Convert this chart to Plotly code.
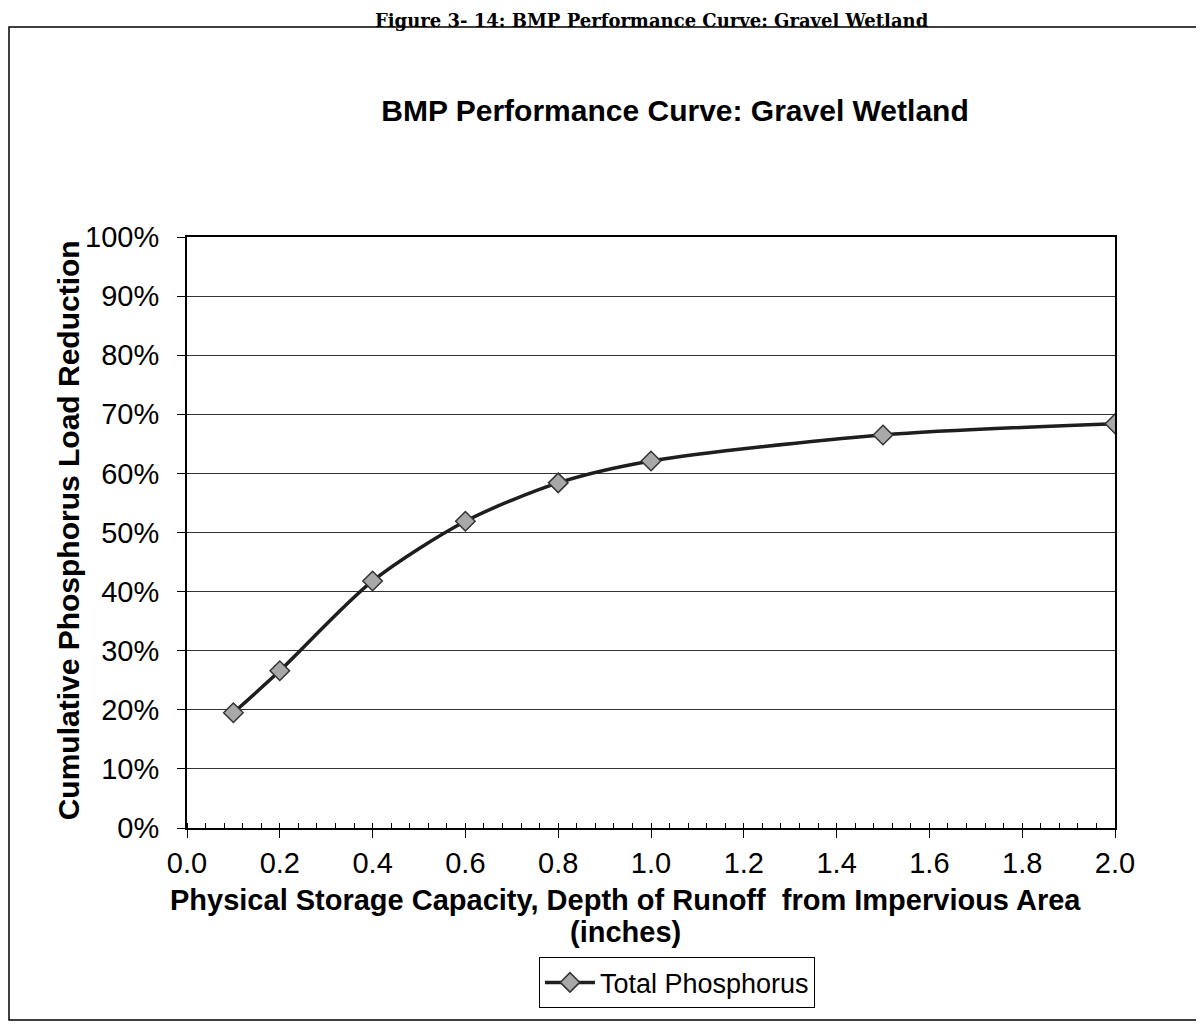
import plotly.graph_objects as go

# depth of runoff (inches) and cumulative phosphorus load reduction
depth = [0.1, 0.2, 0.4, 0.6, 0.8, 1.0, 1.5, 2.0]
reduccion = [0.195, 0.266, 0.418, 0.519, 0.584, 0.621, 0.665, 0.684]
serie = "Total Phosphorus"

fig = go.Figure()
fig.add_trace(go.Scatter(
    x=depth, y=reduccion, name=serie,
    mode="lines+markers",
    line=dict(color="#1e1e1e", width=3.5, shape="spline", smoothing=0.8),
    marker=dict(symbol="diamond", size=15, color="#a8a8a8",
                line=dict(color="#333333", width=1.5)),
))

fuente = "Liberation Sans, Arial, sans-serif"

fig.update_layout(
    width=1196, height=1016,
    margin=dict(l=179, r=89, t=229, b=196),
    paper_bgcolor="white", plot_bgcolor="white",
    font=dict(family=fuente, color="black"),
    title=dict(text="<b>BMP Performance Curve: Gravel Wetland</b>",
               x=0.5577, xanchor="center", y=1 - 102 / 1016, yanchor="middle",
               font=dict(size=30)),
    showlegend=True,
    legend=dict(x=0.528, y=-0.262, xanchor="center", yanchor="middle",
                bordercolor="black", borderwidth=1, bgcolor="white",
                font=dict(size=27), itemwidth=50),
)

fig.update_xaxes(
    range=[0, 2], dtick=0.2, tickformat=".1f",
    showline=True, linecolor="black", linewidth=2, mirror=True,
    showgrid=False, zeroline=False,
    ticks="outside", ticklen=8, tickcolor="black",
    tickfont=dict(size=29),
    minor=dict(ticks="inside", dtick=0.04, ticklen=5, tickcolor="black", showgrid=False),
)
fig.update_yaxes(
    range=[0, 1], dtick=0.1, tickformat=".0%",
    showline=True, linecolor="black", linewidth=2, mirror=True,
    showgrid=True, gridcolor="#333333", gridwidth=1, zeroline=False,
    ticks="outside", ticklen=8, tickcolor="black",
    tickfont=dict(size=29), ticklabelstandoff=12,
)

# axis titles
fig.add_annotation(text="<b>Cumulative Phosphorus Load Reduction</b>",
                   xref="paper", yref="paper", x=-0.128, y=0.504,
                   xanchor="center", yanchor="middle", textangle=-90,
                   showarrow=False, font=dict(size=30))
fig.add_annotation(text="<b>Physical Storage Capacity, Depth of Runoff  from Impervious Area</b>",
                   xref="paper", yref="paper", x=0.472, y=-0.122,
                   xanchor="center", yanchor="middle",
                   showarrow=False, font=dict(size=29))
fig.add_annotation(text="<b>(inches)</b>",
                   xref="paper", yref="paper", x=0.472, y=-0.176,
                   xanchor="center", yanchor="middle",
                   showarrow=False, font=dict(size=29))

# document caption at the top edge
fig.add_annotation(text="<b>Figure 3- 14: BMP Performance Curve: Gravel Wetland</b>",
                   xref="paper", yref="paper", x=0.501, y=820 / 591,
                   xanchor="center", yanchor="top",
                   showarrow=False, font=dict(size=18, family="DejaVu Serif, serif"))

# outer chart frame
fig.add_shape(type="rect", xref="paper", yref="paper",
              x0=-178 / 928, x1=1 + 100 / 928, y0=-192 / 591, y1=801 / 591,
              line=dict(color="black", width=1.5))

fig.write_html("out.html")
